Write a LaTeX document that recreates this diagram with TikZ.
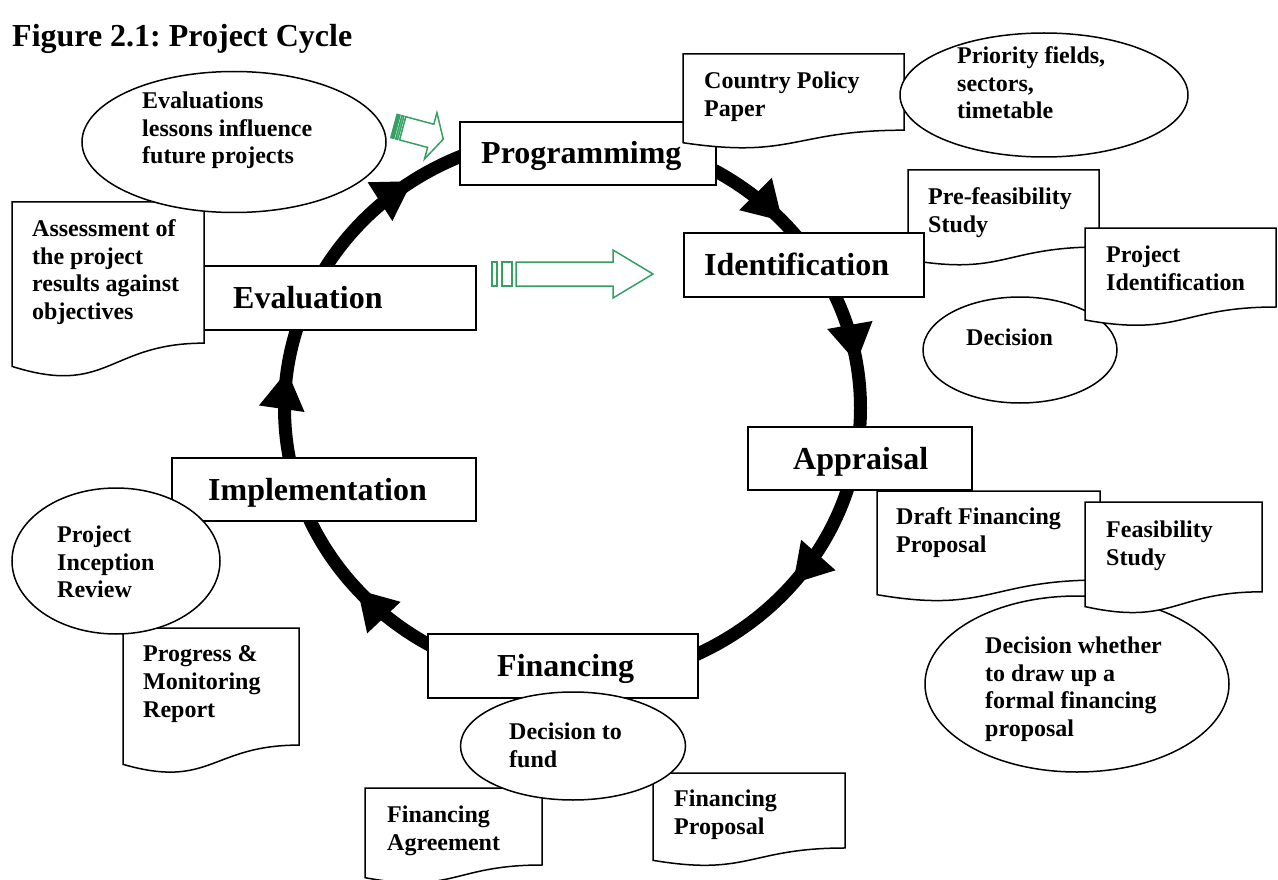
\documentclass[tikz,border=0pt]{standalone}
\usepackage{fontspec}
\setmainfont{Liberation Serif}
\usetikzlibrary{shapes.geometric,arrows.meta,decorations.markings}
\definecolor{gr}{RGB}{52,160,98}
\tikzset{
  note/.style={font=\bfseries\fontsize{24}{27.7}\selectfont, align=left, inner sep=0pt, anchor=north west},
  boxtext/.style={font=\bfseries\fontsize{32}{36}\selectfont, inner sep=0pt, anchor=base west},
  box/.style={draw, line width=2.5pt, fill=white, rectangle, inner sep=0pt, outer sep=0pt},
  ell/.style={draw, ellipse, line width=1.5pt, fill=white, inner sep=0pt},
  docsty/.style={draw, line width=1.5pt, fill=white},
  garrow/.style={draw=gr, line width=1.5pt, line join=miter},
  ringtip/.tip={Triangle[width=46pt,length=38pt,line width=0pt]},
  pics/doc/.style 2 args={code={
    \draw[docsty] (0,0) -- (#1,0) -- (#1,0.802*#2)
      .. controls (0.5*#1,0.802*#2) and (0.5*#1,1.107*#2) .. (0,0.934*#2) -- cycle;}}
}
\begin{document}
\frenchspacing
\begin{tikzpicture}[x=1pt,y=-1pt]
\useasboundingbox (0,0) rectangle (1278,880);
\fill[white] (0,0) rectangle (1278,880);

% title
\node[boxtext] (title) at (12,47) {Figure 2.1: Project Cycle};

% the cycle ring
\coordinate (c) at (572.5,408);
\draw[line width=13pt, postaction={decorate}, decoration={markings,
  mark=at position 0.109 with {\arrow{ringtip}},
  mark=at position 0.386 with {\arrow{ringtip}},
  mark=at position 0.521 with {\arrow{ringtip}},
  mark=at position 0.654 with {\arrow{ringtip}},
  mark=at position 0.882 with {\arrow{ringtip}},
  mark=at position 0.974 with {\arrow{ringtip}}}]
  (c) ellipse [x radius=288, y radius=273];

% documents behind boxes
\pic (dpre) at (908,170) {doc={191}{96}};
\node[note] (dpret) at (928,187.5) {Pre-feasibility\\Study};

% stage boxes
\node[box, minimum width=256pt, minimum height=63pt] (prog) at (588,153.5) {};
\node[box, minimum width=240pt, minimum height=64pt] (ident) at (804,265) {};
\node[box, minimum width=224pt, minimum height=63pt] (appr) at (860,458.5) {};
\node[box, minimum width=270pt, minimum height=64pt] (fin) at (563,666) {};
\node[box, minimum width=304pt, minimum height=63pt] (impl) at (324,489.5) {};
\node[box, minimum width=272pt, minimum height=64pt] (eval) at (340,298) {};
\node[boxtext] (progt) at (481,164) {Programmimg};
\node[boxtext] (identt) at (704,275.5) {Identification};
\node[boxtext] (apprt) at (793,469) {Appraisal};
\node[boxtext] (fint) at (497,676.5) {Financing};
\node[boxtext] (implt) at (208,500) {Implementation};
\node[boxtext] (evalt) at (233,308.5) {Evaluation};

% top right
\pic (dpol) at (683,54) {doc={221}{95}};
\node[note] (dpolt) at (704,71.5) {Country Policy\\Paper};
\node[ell, minimum width=288pt, minimum height=124pt] (eprio) at (1044,95) {};
\node[note] (epriot) at (957,46.5) {Priority fields,\\sectors,\\timetable};

% identification notes
\node[ell, minimum width=194pt, minimum height=106pt] (edec) at (1020,350) {};
\node[note] (edect) at (966,328.5) {Decision};
\pic (dpid) at (1085,228) {doc={191}{98.5}};
\node[note] (dpidt) at (1106,245.5) {Project\\Identification};

% appraisal notes
\node[ell, minimum width=304pt, minimum height=176pt] (edw) at (1077,684) {};
\node[note] (edwt) at (985,636.5) {Decision whether\\to draw up a\\formal financing\\proposal};
\pic (ddraft) at (877,491) {doc={223}{111}};
\node[note] (ddraftt) at (896,507.5) {Draft Financing\\Proposal};
\pic (dfeas) at (1085,502) {doc={177}{112}};
\node[note] (dfeast) at (1106,520.5) {Feasibility\\Study};

% financing notes
\pic (dagr) at (365,788) {doc={177}{96}};
\node[note] (dagrt) at (387,805.5) {Financing\\Agreement};
\pic (dfp) at (653,773) {doc={192}{93.5}};
\node[note] (dfpt) at (674,789.5) {Financing\\Proposal};
\node[ell, minimum width=225pt, minimum height=108pt] (efund) at (573,746) {};
\node[note] (efundt) at (509,722.5) {Decision to\\fund};

% implementation notes
\pic (dprog) at (123,628) {doc={176}{146}};
\node[note] (dprogt) at (143,645.5) {Progress \&\\Monitoring\\Report};
\node[ell, minimum width=208pt, minimum height=146pt] (eincep) at (116,561) {};
\node[note] (eincept) at (57,525.5) {Project\\Inception\\Review};

% evaluation notes
\pic (dass) at (12,202) {doc={192}{176}};
\node[note] (dasst) at (32,219.5) {Assessment of\\the project\\results against\\objectives};
\node[ell, minimum width=304pt, minimum height=141pt] (elessons) at (234,142) {};
\node[note] (elessonst) at (142,91.5) {Evaluations\\lessons influence\\future projects};

% green block arrows
\begin{scope}[shift={(394,126)}, rotate=-15]
  \filldraw[garrow, fill=gr] (0,-12) rectangle (3,12);
  \draw[garrow] (5,-12) rectangle (7,12);
  \draw[garrow] (9,-12) -- (38,-12) -- (38,-24) -- (51,0) -- (38,24) -- (38,12) -- (9,12) -- cycle;
\end{scope}
\draw[garrow] (492,262) rectangle (497,286);
\draw[garrow] (502,262) rectangle (512,286);
\draw[garrow] (516,262) -- (613,262) -- (613,250) -- (653,274) -- (613,298) -- (613,286) -- (516,286) -- cycle;
\end{tikzpicture}
\end{document}
